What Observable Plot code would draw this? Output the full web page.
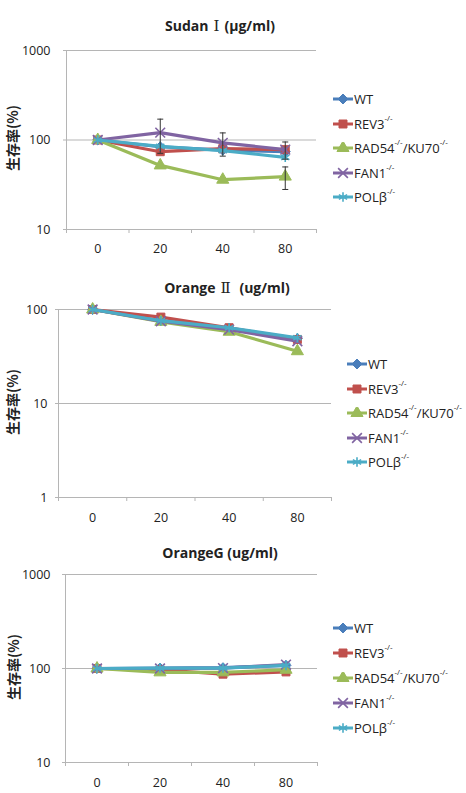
<!DOCTYPE html>
<html>
<head>
<meta charset="utf-8">
<script src="https://cdn.jsdelivr.net/npm/d3@7"></script>
<script src="https://cdn.jsdelivr.net/npm/@observablehq/plot@0.6"></script>
<style>
  html, body { margin: 0; padding: 0; background: #fff; }
  #page { position: relative; width: 466px; height: 793px; overflow: hidden; font-family: "Open Sans", "Noto Sans CJK JP", sans-serif; color: #222; }
  .panel { position: absolute; left: 0; }
  .title { position: absolute; transform: translate(-50%, -50%); font-weight: bold; font-size: 14px; white-space: nowrap; font-family: "Open Sans", "Noto Sans CJK JP", sans-serif; }
  .title .roman { font-family: "DejaVu Serif", "Liberation Serif", serif; font-weight: normal; font-size: 15px; padding: 0 5px; }
  .ylabel { position: absolute; transform: translate(-50%, -50%) rotate(-90deg); font-weight: bold; font-size: 14px; white-space: nowrap; font-family: "Noto Sans CJK JP", sans-serif; }
  .legend-row { position: absolute; display: flex; align-items: center; font-size: 13px; white-space: nowrap; transform: translateY(-50%); }
  .legend-row svg { display: block; margin-right: 1px; }
  .legend-row sup { font-size: 8px; vertical-align: 8px; line-height: 0; }
</style>
</head>
<body>
<div id="page"></div>
<script>
// Dose levels (x categories) and cell lines (series)
const doses = ["0", "20", "40", "80"];
const lines = ["WT", "REV3", "RAD54/KU70", "FAN1", "POLβ"];
const lineColors = ["#4a7ebb", "#c0504d", "#9bbb59", "#8064a2", "#4bacc6"];
const lineSymbols = ["diamond2", "square", "triangle", "times", "asterisk"];

// Survival (%) — Sudan I
const sudanWT    = [100, 84, 77, 74];
const sudanREV3  = [100, 74, 80, 78];
const sudanRAD54 = [100, 52, 36, 39];
const sudanFAN1  = [100, 121, 93, 78];
const sudanPOLB  = [100, 85, 76, 64];
// Error (±) — Sudan I
const sudanErrWT    = [0, 0, 0, 0];
const sudanErrREV3  = [0, 0, 0, 17];
const sudanErrRAD54 = [0, 0, 0, 11];
const sudanErrFAN1  = [0, 50, 27, 0];
const sudanErrPOLB  = [0, 0, 0, 0];

// Survival (%) — Orange II
const orange2WT    = [100, 76, 63, 49];
const orange2REV3  = [100, 83, 64, 48];
const orange2RAD54 = [100, 74, 58, 36];
const orange2FAN1  = [100, 75, 61, 46];
const orange2POLB  = [100, 76, 64, 50];

// Survival (%) — Orange G
const orangeGWT    = [100, 101, 102, 108];
const orangeGREV3  = [100, 97, 87, 92];
const orangeGRAD54 = [100, 91, 91, 97];
const orangeGFAN1  = [100, 100, 101, 110];
const orangeGPOLB  = [100, 101, 101, 108];

// Axis ticks
const ticksSudan = [10, 100, 1000];
const ticksOrange2 = [1, 10, 100];
const ticksOrangeG = [10, 100, 1000];

function rows(valueSets, errSets) {
  const out = [];
  lines.forEach((s, k) => {
    valueSets[k].forEach((v, i) => {
      out.push({series: s, i, value: v, err: errSets ? errSets[k][i] : 0});
    });
  });
  return out;
}

// horizontal cap for error bars
const capSymbol = {draw(ctx) { ctx.moveTo(-3, 0); ctx.lineTo(3, 0); }};

function chart(cfg) {
  const data = cfg.data;
  const errs = data.filter(d => d.err > 0);
  const seriesMarks = lines.flatMap((s, k) => {
    const sd = data.filter(d => d.series === s);
    const c = lineColors[k];
    const stroked = lineSymbols[k] === "times" || lineSymbols[k] === "asterisk";
    return [
      Plot.line(sd, {x: "i", y: "value", stroke: c, strokeWidth: 3.2, strokeLinejoin: "round"}),
      Plot.dot(sd, {x: "i", y: "value", symbol: lineSymbols[k], r: 4.5,
        fill: stroked ? "none" : c, stroke: c, strokeWidth: stroked ? 1.6 : 1})
    ];
  });
  return Plot.plot({
    width: 466,
    height: cfg.height,
    marginLeft: cfg.left,
    marginRight: 466 - cfg.right,
    marginTop: cfg.marginTop,
    marginBottom: cfg.marginBottom,
    style: {fontFamily: "'Open Sans', sans-serif", fontSize: "12.5px", background: "transparent", color: "#222", overflow: "visible"},
    x: {type: "linear", domain: [-0.5, doses.length - 0.5]},
    y: {type: "log", domain: [cfg.ticks[0], cfg.ticks[cfg.ticks.length - 1]]},
    marks: [
      Plot.ruleY(cfg.ticks, {stroke: "#b5b5b5", strokeWidth: 1}),
      Plot.ruleX([-0.5], {stroke: "#b5b5b5", strokeWidth: 1}),
      Plot.axisY({ticks: cfg.ticks, tickSize: 3, tickPadding: cfg.yPad, tickFormat: d => String(d), stroke: "#b5b5b5", fill: "#222", label: null}),
      Plot.axisX({ticks: d3.range(doses.length + 1).map(i => i - 0.5), tickSize: 4, tickFormat: () => "", stroke: "#b5b5b5", label: null}),
      Plot.axisX({ticks: d3.range(doses.length), tickSize: 0, tickPadding: cfg.xPad, tickFormat: i => doses[i], fill: "#222", label: null}),
      ...seriesMarks,
      Plot.ruleX(errs, {x: "i", y1: d => d.value - d.err, y2: d => d.value + d.err, stroke: "#333", strokeWidth: 1}),
      Plot.dot(errs, {x: "i", y: d => d.value + d.err, symbol: capSymbol, stroke: "#333", strokeWidth: 1}),
      Plot.dot(errs, {x: "i", y: d => d.value - d.err, symbol: capSymbol, stroke: "#333", strokeWidth: 1})
    ]
  });
}

const legendNames = [
  "WT",
  "REV3<sup>-/-</sup>",
  "RAD54<sup>-/-</sup>/KU70<sup>-/-</sup>",
  "FAN1<sup>-/-</sup>",
  "POLβ<sup>-/-</sup>"
];

function legendSwatch(k) {
  const svg = d3.create("svg").attr("width", 20).attr("height", 12);
  const c = lineColors[k];
  svg.append("line").attr("x1", 0).attr("x2", 20).attr("y1", 6).attr("y2", 6)
    .attr("stroke", c).attr("stroke-width", 3);
  const symMap = {diamond2: d3.symbolDiamond2, square: d3.symbolSquare, triangle: d3.symbolTriangle, times: d3.symbolTimes, asterisk: d3.symbolAsterisk};
  const stroked = lineSymbols[k] === "times" || lineSymbols[k] === "asterisk";
  svg.append("path").attr("transform", "translate(10,6)")
    .attr("d", d3.symbol(symMap[lineSymbols[k]], Math.PI * 4.5 * 4.5)())
    .attr("fill", stroked ? "none" : c).attr("stroke", c).attr("stroke-width", stroked ? 1.6 : 1);
  return svg.node();
}

const page = document.getElementById("page");

function addPanel(cfg) {
  const wrap = document.createElement("div");
  wrap.className = "panel";
  wrap.style.top = cfg.top + "px";
  wrap.appendChild(chart(cfg));
  page.appendChild(wrap);

  const t = document.createElement("div");
  t.className = "title";
  t.style.left = cfg.titleX + "px";
  t.style.top = cfg.titleY + "px";
  t.innerHTML = cfg.title;
  page.appendChild(t);

  const yl = document.createElement("div");
  yl.className = "ylabel";
  yl.style.left = cfg.ylabelX + "px";
  yl.style.top = cfg.ylabelY + "px";
  yl.textContent = "生存率(%)";
  page.appendChild(yl);

  legendNames.forEach((name, k) => {
    const row = document.createElement("div");
    row.className = "legend-row";
    row.style.left = cfg.legendX + "px";
    row.style.top = (cfg.legendY + k * cfg.legendStep) + "px";
    row.appendChild(legendSwatch(k));
    const span = document.createElement("span");
    span.innerHTML = name;
    row.appendChild(span);
    page.appendChild(row);
  });
}

addPanel({
  top: 0, height: 262, left: 66, right: 316, marginTop: 50, marginBottom: 33,
  ticks: ticksSudan, yPad: 13, xPad: 15,
  data: rows([sudanWT, sudanREV3, sudanRAD54, sudanFAN1, sudanPOLB],
             [sudanErrWT, sudanErrREV3, sudanErrRAD54, sudanErrFAN1, sudanErrPOLB]),
  title: "Sudan<span class=\"roman\">Ⅰ</span>(µg/ml)", titleX: 220, titleY: 25,
  ylabelX: 12, ylabelY: 138,
  legendX: 333, legendY: 99, legendStep: 24.5
});

addPanel({
  top: 262, height: 266, left: 58, right: 331, marginTop: 47, marginBottom: 31,
  ticks: ticksOrange2, yPad: 8, xPad: 16,
  data: rows([orange2WT, orange2REV3, orange2RAD54, orange2FAN1, orange2POLB]),
  title: "Orange<span class=\"roman\">Ⅱ</span> (ug/ml)", titleX: 227, titleY: 287,
  ylabelX: 12, ylabelY: 402,
  legendX: 347, legendY: 364, legendStep: 24.5
});

addPanel({
  top: 528, height: 265, left: 65, right: 317, marginTop: 46, marginBottom: 31,
  ticks: ticksOrangeG, yPad: 12, xPad: 16,
  data: rows([orangeGWT, orangeGREV3, orangeGRAD54, orangeGFAN1, orangeGPOLB]),
  title: "OrangeG (ug/ml)", titleX: 220, titleY: 552,
  ylabelX: 13, ylabelY: 667,
  legendX: 333, legendY: 628, legendStep: 25
});
</script>
</body>
</html>
